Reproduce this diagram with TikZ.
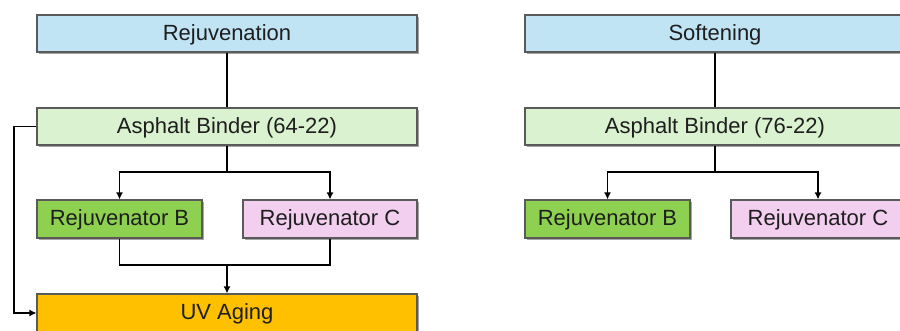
\documentclass[tikz,border=0pt]{standalone}
\usepackage{fontspec}
\setmainfont{Liberation Sans}
\usetikzlibrary{arrows.meta,shadows}
\definecolor{cblue}{HTML}{C1E4F5}
\definecolor{cpale}{HTML}{DAF2D0}
\definecolor{cgreen}{HTML}{8ED150}
\definecolor{cpink}{HTML}{F2CEEF}
\definecolor{corange}{HTML}{FFC000}
\definecolor{cborder}{HTML}{5A5A5A}
\definecolor{ctext}{HTML}{1E1E1E}
\tikzset{
  box/.style={draw=cborder, line width=1.1pt, rectangle, inner sep=0pt,
    minimum height=37pt, text=ctext, text height=15.8pt, text depth=2pt,
    font=\fontsize{22}{25}\selectfont,
    drop shadow={shadow xshift=1.6pt, shadow yshift=-1.6pt, opacity=0.35, fill=black}},
  conn/.style={line width=1.8pt, black},
  arr/.style={conn, -{Latex[length=7pt,width=7pt]}}
}
\begin{document}
\begin{tikzpicture}[x=1pt,y=-1pt]
\useasboundingbox (0,0) rectangle (900,331);
\clip (0,0) rectangle (900,331);
% left column
\node[box, fill=cblue, minimum width=380pt] (rejL) at (227,33.5) {Rejuvenation};
\node[box, fill=cpale, minimum width=380pt] (binL) at (227,126.5) {Asphalt Binder (64-22)};
\node[box, fill=cgreen, minimum width=165pt, minimum height=38pt] (rbL) at (119.5,219) {Rejuvenator B};
\node[box, fill=cpink, minimum width=174pt, minimum height=38pt] (rcL) at (330,219) {Rejuvenator C};
\node[box, fill=corange, minimum width=380pt, minimum height=38pt] (uvL) at (227,313) {UV Aging};
% right column
\node[box, fill=cblue, minimum width=380pt] (rejR) at (715,33.5) {Softening};
\node[box, fill=cpale, minimum width=380pt] (binR) at (715,126.5) {Asphalt Binder (76-22)};
\node[box, fill=cgreen, minimum width=165pt, minimum height=38pt] (rbR) at (607.5,219) {Rejuvenator B};
\node[box, fill=cpink, minimum width=174pt, minimum height=38pt] (rcR) at (818,219) {Rejuvenator C};
% coordinates
\coordinate (bL) at (227,172);
\coordinate (mL) at (227,265);
\coordinate (lpL) at (14,126.5);
\coordinate (bR) at (715,172);
% left connectors
\draw[conn] (rejL.south) -- (binL.north);
\draw[conn] (binL.south) -- (bL);
\draw[arr] (bL) -| (rbL.north);
\draw[arr] (bL) -| (rcL.north);
\draw[conn] (rbL.south) |- (mL);
\draw[conn] (rcL.south) |- (mL);
\draw[arr] (mL) -- (uvL.north);
\draw[arr] (binL.west) -- (lpL) |- (uvL.west);
% right connectors
\draw[conn] (rejR.south) -- (binR.north);
\draw[conn] (binR.south) -- (bR);
\draw[arr] (bR) -| (rbR.north);
\draw[arr] (bR) -| (rcR.north);
\end{tikzpicture}
\end{document}
